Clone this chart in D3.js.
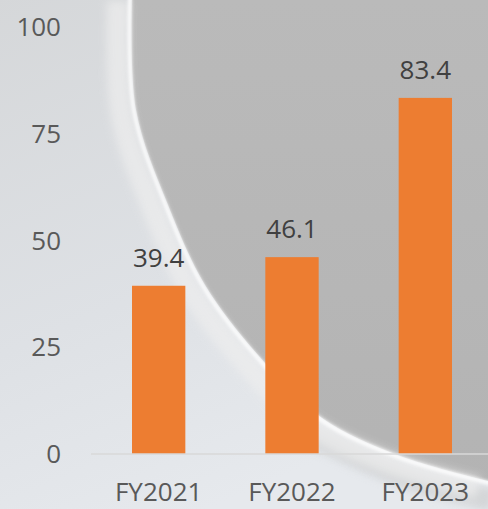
<!DOCTYPE html>
<html>
<head>
<meta charset="utf-8">
<script src="https://cdn.jsdelivr.net/npm/d3@7"></script>
<style>
  body { margin: 0; }
  svg { display: block; }
  text { font-family: "Open Sans", sans-serif; }
</style>
</head>
<body>
<svg width="488" height="509"></svg>
<script>
var years = ['FY2021', 'FY2022', 'FY2023'];
var values = [39.4, 46.1, 83.4];
var ticks = [0, 25, 50, 75, 100];

var width = 488, height = 509;
var svg = d3.select('svg');
var defs = svg.append('defs');

// background: gray panel with a light swoosh on the left
var lg = defs.append('linearGradient').attr('id', 'light')
  .attr('x1', 0).attr('y1', 0).attr('x2', 0.4).attr('y2', 1);
lg.append('stop').attr('offset', 0).attr('stop-color', '#d5d7d9');
lg.append('stop').attr('offset', 0.6).attr('stop-color', '#dee1e5');
lg.append('stop').attr('offset', 1).attr('stop-color', '#e6e9ed');

var gg = defs.append('linearGradient').attr('id', 'gray')
  .attr('x1', 0).attr('y1', 0).attr('x2', 0).attr('y2', 1);
gg.append('stop').attr('offset', 0).attr('stop-color', '#bababa');
gg.append('stop').attr('offset', 1).attr('stop-color', '#b3b3b3');

defs.append('filter').attr('id', 'blur').attr('x', -0.2).attr('y', -0.2)
  .attr('width', 1.4).attr('height', 1.4)
  .append('feGaussianBlur').attr('stdDeviation', 4);
defs.append('filter').attr('id', 'blur2')
  .append('feGaussianBlur').attr('stdDeviation', 1.5);

svg.append('rect').attr('width', width).attr('height', height).attr('fill', 'url(#gray)');

var edge = [[132, -5], [136, 110], [168, 205], [205, 285], [258, 355], [322, 418], [400, 456], [492, 482]];
var curve = d3.line().curve(d3.curveCatmullRom);

svg.append('path')
  .attr('d', curve(edge) + 'L492,515L-5,515L-5,-5Z')
  .attr('fill', 'url(#light)');

// soft lighter band below the swoosh at the bottom right
svg.append('path')
  .attr('d', curve([[300, 430], [400, 475], [492, 500]]))
  .attr('fill', 'none').attr('stroke', '#cfd0d2').attr('stroke-width', 22)
  .attr('filter', 'url(#blur)').attr('opacity', 0.8);

// wide soft highlight along the swoosh
svg.append('path')
  .attr('d', curve(edge.map(function(p) { return [p[0] - 14, p[1] + 6]; })))
  .attr('fill', 'none').attr('stroke', '#eeeeee').attr('stroke-width', 22)
  .attr('filter', 'url(#blur)').attr('opacity', 0.7);

// bright edge
svg.append('path')
  .attr('d', curve(edge.map(function(p) { return [p[0] - 2, p[1] + 1]; })))
  .attr('fill', 'none').attr('stroke', '#ffffff').attr('stroke-width', 4)
  .attr('filter', 'url(#blur2)').attr('opacity', 0.85);

// scales
var x = d3.scaleBand().domain(years).range([92, 492]).paddingInner(0.6).paddingOuter(0.3);
var y = d3.scaleLinear().domain([0, 100]).range([454, 27]);

// y tick labels
svg.append('g').selectAll('text').data(ticks).enter().append('text')
  .attr('x', 61)
  .attr('y', function(d) { return y(d); })
  .attr('dy', '0.35em')
  .attr('text-anchor', 'end')
  .attr('font-size', 26)
  .attr('fill', '#595959')
  .text(function(d) { return d; });

// bars
svg.append('g').selectAll('rect').data(values).enter().append('rect')
  .attr('x', function(d, i) { return x(years[i]); })
  .attr('y', function(d) { return y(d); })
  .attr('width', x.bandwidth())
  .attr('height', function(d) { return y(0) - y(d); })
  .attr('fill', '#ed7d31');

// axis line
svg.append('line')
  .attr('x1', 91).attr('x2', width)
  .attr('y1', y(0)).attr('y2', y(0))
  .attr('stroke', '#d9d9d9').attr('stroke-width', 1.5);

// value labels
svg.append('g').selectAll('text').data(values).enter().append('text')
  .attr('x', function(d, i) { return x(years[i]) + x.bandwidth() / 2; })
  .attr('y', function(d) { return y(d) - 19; })
  .attr('text-anchor', 'middle')
  .attr('font-size', 26)
  .attr('fill', '#404040')
  .text(function(d) { return d.toFixed(1); });

// category labels
svg.append('g').selectAll('text').data(years).enter().append('text')
  .attr('x', function(d) { return x(d) + x.bandwidth() / 2; })
  .attr('y', 501)
  .attr('text-anchor', 'middle')
  .attr('font-size', 26)
  .attr('fill', '#595959')
  .text(function(d) { return d; });
</script>
</body>
</html>
